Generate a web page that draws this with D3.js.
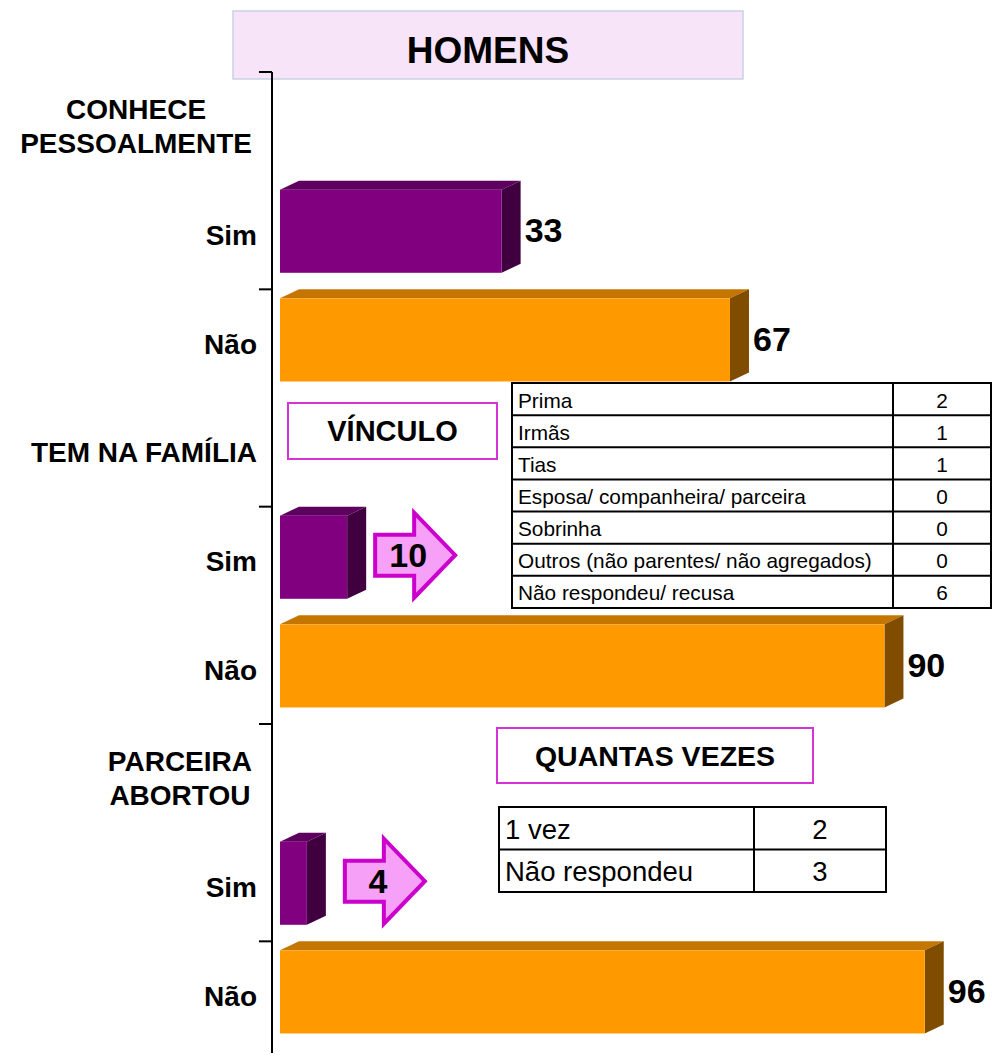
<!DOCTYPE html>
<html>
<head>
<meta charset="utf-8">
<script src="https://cdn.jsdelivr.net/npm/d3@7"></script>
<style>body{margin:0;background:#fff}</style>
</head>
<body>
<div id="viz"></div>
<script>
//Data

let title = "HOMENS"
let groupLines = [["CONHECE","PESSOALMENTE"],["TEM NA FAMÍLIA"],["PARCEIRA","ABORTOU"]]
let answers = ["Sim","Não"]
let simValues = [33, 10, 4]
let naoValues = [67, 90, 96]

let vinculoTitle = "VÍNCULO"
let vinculoLabels = ["Prima","Irmãs","Tias","Esposa/ companheira/ parceira","Sobrinha","Outros (não parentes/ não agregados)","Não respondeu/ recusa"]
let vinculoValues = [2, 1, 1, 0, 0, 0, 6]

let vezesTitle = "QUANTAS VEZES"
let vezesLabels = ["1 vez","Não respondeu"]
let vezesValues = [2, 3]

//Layout settings

let width = 1006
let height = 1057
let font = "'Liberation Sans', Arial, sans-serif"
let dx = 19, dy = 9
let colors = {
    Sim: {front: "#800080", top: "#5e005e", side: "#400040"},
    "Não": {front: "#ff9900", top: "#c47600", side: "#7f4c00"}
}

//Rows: header, Sim, Não for every group
let rows = []
groupLines.forEach((g, i) => {
    rows.push({id: `g${i}`, header: true, lines: g})
    rows.push({id: `g${i}-Sim`, label: "Sim", answer: "Sim", value: simValues[i], group: i})
    rows.push({id: `g${i}-Não`, label: "Não", answer: "Não", value: naoValues[i], group: i})
})

let svg = d3.select('#viz').append('svg').attr("width", width).attr("height", height)

let y = d3.scaleBand().domain(rows.map(d => d.id)).range([72, 1050]).padding(0)
let x = d3.scaleLinear().domain([0, 100]).range([280, 951.6])
let fh = y.bandwidth() * 0.765

//Title box
svg.append("rect").attr("x", 233).attr("y", 11).attr("width", 510).attr("height", 68)
    .attr("fill", "#f8e4f8").attr("stroke", "#c8d2e4").attr("stroke-width", 1.5)
svg.append("text").text(title).attr("x", 488).attr("y", 63).attr("text-anchor", "middle")
    .attr("font-family", font).attr("font-weight", "bold").attr("font-size", 37).attr("fill", "#000")

//Axis with a tick every second category
let axisX = 272
svg.append("line").attr("x1", axisX).attr("x2", axisX).attr("y1", 72).attr("y2", 1053)
    .attr("stroke", "#000").attr("stroke-width", 2)
svg.selectAll(".tick").data(rows.filter((d, i) => i % 2 == 0)).enter().append("line")
    .attr("x1", axisX - 13).attr("x2", axisX).attr("y1", d => y(d.id)).attr("y2", d => y(d.id))
    .attr("stroke", "#000").attr("stroke-width", 2)

//Category labels
let labelSize = 28
rows.forEach(d => {
    let cy = y(d.id) + y.bandwidth() / 2
    if (d.header && d.lines.length > 1) {
        let g = svg.append("g")
        let texts = d.lines.map((line, k) => g.append("text").text(line)
            .attr("y", cy + (k - (d.lines.length - 1) / 2) * 34 + 10)
            .attr("text-anchor", "middle").attr("font-family", font).attr("font-weight", "bold")
            .attr("font-size", labelSize).attr("fill", "#000"))
        let maxW = d3.max(texts, t => t.node().getComputedTextLength())
        texts.forEach(t => t.attr("x", 252 - maxW / 2))
    } else {
        svg.append("text").text(d.header ? d.lines[0] : d.label).attr("x", 257).attr("y", cy + 10)
            .attr("text-anchor", "end").attr("font-family", font).attr("font-weight", "bold")
            .attr("font-size", labelSize).attr("fill", "#000")
    }
})

//Arrows next to the "Sim" bars of family and abortion groups carry the value
let arrowGap = [null, 9, 19]

//3D bars
let bars = rows.filter(d => !d.header)
bars.forEach(d => {
    let y0 = y(d.id)
    let x0 = x(0), x1 = x(d.value)
    let c = colors[d.answer]
    svg.append("polygon")
        .attr("points", [[x0, y0 + dy], [x0 + dx, y0], [x1 + dx, y0], [x1, y0 + dy]].join(" "))
        .attr("fill", c.top)
    svg.append("polygon")
        .attr("points", [[x1, y0 + dy], [x1 + dx, y0], [x1 + dx, y0 + fh], [x1, y0 + dy + fh]].join(" "))
        .attr("fill", c.side)
    svg.append("rect").attr("x", x0).attr("y", y0 + dy).attr("width", x1 - x0).attr("height", fh)
        .attr("fill", c.front)
    if (d.answer == "Sim" && arrowGap[d.group] != null) return
    svg.append("text").text(d.value).attr("x", x1 + dx + 4).attr("y", y0 + dy + fh / 2 - 1)
        .attr("dominant-baseline", "central").attr("font-family", font).attr("font-weight", "bold")
        .attr("font-size", 34).attr("fill", "#000")
})

bars.filter(d => d.answer == "Sim" && arrowGap[d.group] != null).forEach(d => {
    let ax = x(d.value) + dx + arrowGap[d.group]
    let ay = y(d.id) + dy + fh / 2 - 2
    let pts = [[ax, ay - 20.5], [ax + 39, ay - 20.5], [ax + 39, ay - 42.5], [ax + 80, ay],
               [ax + 39, ay + 42.5], [ax + 39, ay + 20.5], [ax, ay + 20.5]]
    svg.append("polygon").attr("points", pts.join(" "))
        .attr("fill", "#f7a0f7").attr("stroke", "#cc00cc").attr("stroke-width", 4).attr("stroke-linejoin", "miter")
    svg.append("text").text(d.value).attr("x", ax + 33).attr("y", ay)
        .attr("text-anchor", "middle").attr("dominant-baseline", "central")
        .attr("font-family", font).attr("font-weight", "bold").attr("font-size", 34).attr("fill", "#000")
})

//Title boxes for the tables
function titleBox(text, bx, by, bw, bh, size) {
    svg.append("rect").attr("x", bx).attr("y", by).attr("width", bw).attr("height", bh)
        .attr("fill", "#fff").attr("stroke", "#d633d6").attr("stroke-width", 2)
    svg.append("text").text(text).attr("x", bx + bw / 2).attr("y", by + bh / 2)
        .attr("text-anchor", "middle").attr("dominant-baseline", "central")
        .attr("font-family", font).attr("font-weight", "bold").attr("font-size", size).attr("fill", "#000")
}
titleBox(vinculoTitle, 288, 403, 209, 56, 29)
titleBox(vezesTitle, 497, 728, 316, 55, 28.5)

//Tables
function table(labels, values, tx, ty, tw, th, splitX, size) {
    let ry = d3.scaleBand().domain(d3.range(labels.length)).range([ty, ty + th])
    let g = svg.append("g")
    g.append("rect").attr("x", tx).attr("y", ty).attr("width", tw).attr("height", th)
        .attr("fill", "#fff").attr("stroke", "#000").attr("stroke-width", 2)
    g.selectAll(".hl").data(d3.range(1, labels.length)).enter().append("line")
        .attr("x1", tx).attr("x2", tx + tw).attr("y1", i => ry(i)).attr("y2", i => ry(i))
        .attr("stroke", "#000").attr("stroke-width", 2)
    g.append("line").attr("x1", splitX).attr("x2", splitX).attr("y1", ty).attr("y2", ty + th)
        .attr("stroke", "#000").attr("stroke-width", 2)
    g.selectAll(".lab").data(labels).enter().append("text").text(d => d)
        .attr("x", tx + 6).attr("y", (d, i) => ry(i) + ry.bandwidth() / 2 + 1)
        .attr("dominant-baseline", "central").attr("font-family", font)
        .attr("font-size", size).attr("fill", "#000")
    g.selectAll(".val").data(values).enter().append("text").text(d => d)
        .attr("x", (splitX + tx + tw) / 2).attr("y", (d, i) => ry(i) + ry.bandwidth() / 2 + 1)
        .attr("text-anchor", "middle").attr("dominant-baseline", "central").attr("font-family", font)
        .attr("font-size", size).attr("fill", "#000")
}
table(vinculoLabels, vinculoValues, 512, 383, 479, 225, 893, 20.8)
table(vezesLabels, vezesValues, 499, 807, 387, 85, 754, 27.5)
</script>
</body>
</html>
